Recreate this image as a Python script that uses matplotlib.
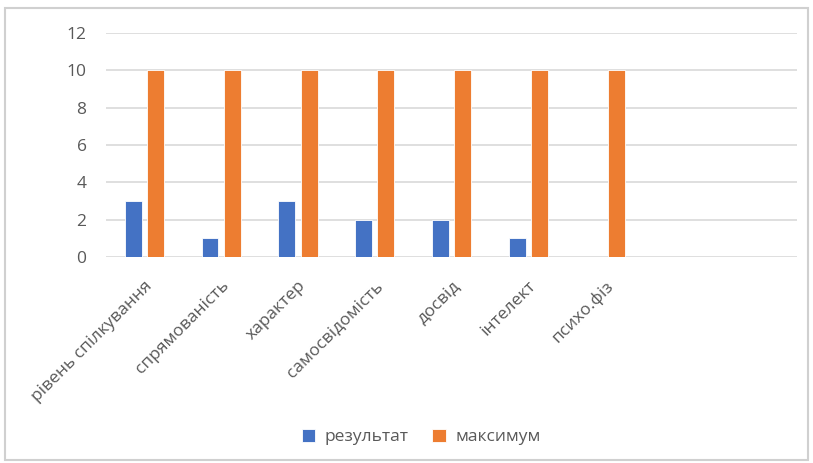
import matplotlib
matplotlib.use("Agg")
import matplotlib.pyplot as plt
from matplotlib.patches import Rectangle
import numpy as np

plt.rcParams['font.family'] = ['Open Sans', 'DejaVu Sans']

categories = ["рівень спілкування", "спрямованість", "характер", "самосвідомість",
              "досвід", "інтелект", "психо.фіз", "", ""]
result = [3, 1, 3, 2, 2, 1, 0, None, None]
maximum = [10, 10, 10, 10, 10, 10, 10, None, None]
yticks = [0, 2, 4, 6, 8, 10, 12]

blue = "#4472C4"
orange = "#ED7D31"
grid = "#d9d9d9"
txt = "#595959"

fig = plt.figure(figsize=(8.13, 4.63), dpi=100)
ax = fig.add_axes([106/813, 1-257/463, (797-106)/813, (257-33)/463])

x = np.arange(len(categories))
r = [v if v is not None else 0 for v in result]
m = [v if v is not None else 0 for v in maximum]
w = 0.22
off = 0.145
ax.bar(x - off, r, width=w, color=blue, edgecolor="white", linewidth=0.6, label="результат", zorder=3)
ax.bar(x + off, m, width=w, color=orange, edgecolor="white", linewidth=0.6, label="максимум", zorder=3)

ax.set_xlim(-0.5, len(categories) - 0.5)
ax.set_ylim(0, 12)
ax.set_yticks(yticks)
ax.set_yticklabels([str(t) for t in yticks], color=txt, fontsize=12.5)
ax.yaxis.grid(True, color=grid, linewidth=1.2, zorder=0)
ax.set_axisbelow(True)
for s in ax.spines.values():
    s.set_visible(False)
ax.tick_params(axis='both', length=0)
ax.tick_params(axis='y', pad=14)

ax.set_xticks(x)
ax.set_xticklabels(categories, rotation=45, ha='right', rotation_mode='anchor',
                   color=txt, fontsize=12.5)
ax.tick_params(axis='x', pad=15)

leg = fig.legend(loc='center', bbox_to_anchor=(421/813, 1-437/463), ncol=2, frameon=False,
                 fontsize=12.5, handlelength=0.8, handleheight=0.8, columnspacing=1.4,
                 handletextpad=0.5)
for t in leg.get_texts():
    t.set_color(txt)

fig.patches.append(Rectangle((5/813, 3/463), 803/813, 452/463, transform=fig.transFigure,
                             fill=False, edgecolor="#d0d0d0", linewidth=1.5))

fig.savefig("out.png", dpi=100)
